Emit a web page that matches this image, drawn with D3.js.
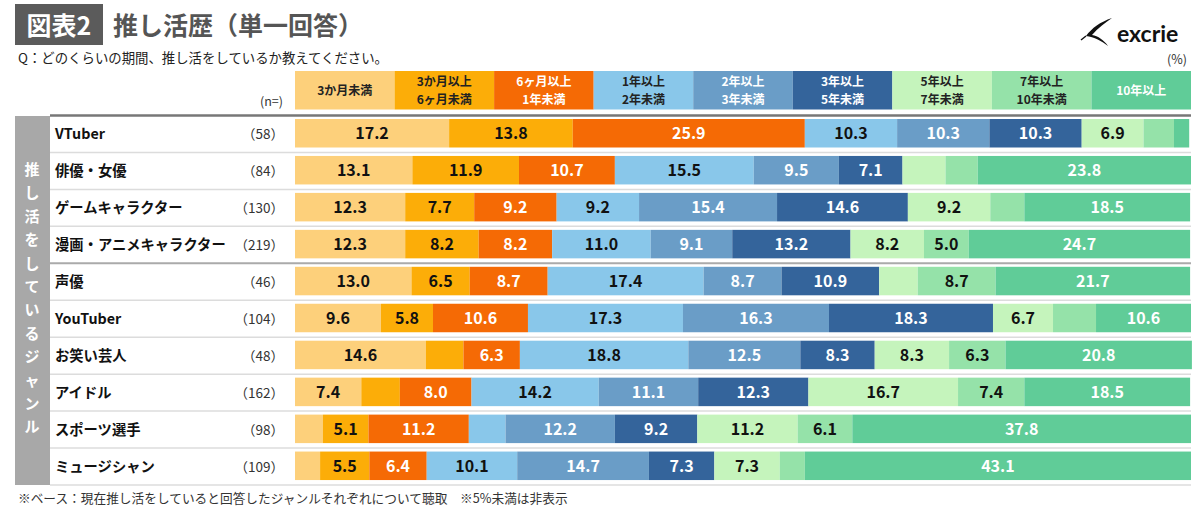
<!DOCTYPE html>
<html>
<head>
<meta charset="utf-8">
<script src="https://cdn.jsdelivr.net/npm/d3@7"></script>
<style>
  html, body { margin: 0; padding: 0; background: #fff; }
  svg { display: block; font-family: "Noto Sans CJK JP", "Noto Sans", sans-serif; }
</style>
</head>
<body>
<div id="app"></div>
<script>
const genres = ["VTuber", "俳優・女優", "ゲームキャラクター", "漫画・アニメキャラクター", "声優",
  "YouTuber", "お笑い芸人", "アイドル", "スポーツ選手", "ミュージシャン"];
const counts = [58, 84, 130, 219, 46, 104, 48, 162, 98, 109];

const periods = ["3か月未満", "3か月以上\n6ヶ月未満", "6ヶ月以上\n1年未満", "1年以上\n2年未満",
  "2年以上\n3年未満", "3年以上\n5年未満", "5年以上\n7年未満", "7年以上\n10年未満", "10年以上"];

// one array per genre, in period order (values under 5%)
const vtuber    = [17.2, 13.8, 25.9, 10.3, 10.3, 10.3, 6.9, 3.4, 1.7];
const actor     = [13.1, 11.9, 10.7, 15.5, 9.5, 7.1, 4.8, 3.6, 23.8];
const gameChara = [12.3, 7.7, 9.2, 9.2, 15.4, 14.6, 9.2, 3.8, 18.5];
const animeChara= [12.3, 8.2, 8.2, 11.0, 9.1, 13.2, 8.2, 5.0, 24.7];
const seiyu     = [13.0, 6.5, 8.7, 17.4, 8.7, 10.9, 4.3, 8.7, 21.7];
const youtuber  = [9.6, 5.8, 10.6, 17.3, 16.3, 18.3, 6.7, 4.8, 10.6];
const comedian  = [14.6, 4.2, 6.3, 18.8, 12.5, 8.3, 8.3, 6.3, 20.8];
const idol      = [7.4, 4.3, 8.0, 14.2, 11.1, 12.3, 16.7, 7.4, 18.5];
const athlete   = [3.1, 5.1, 11.2, 4.1, 12.2, 9.2, 11.2, 6.1, 37.8];
const musician  = [2.8, 5.5, 6.4, 10.1, 14.7, 7.3, 7.3, 2.8, 43.1];
const values = [vtuber, actor, gameChara, animeChara, seiyu, youtuber, comedian, idol, athlete, musician];

const colors = ["#fdd07b", "#fcad08", "#f56a05", "#89c7ea", "#6a9dc7", "#34649b", "#c5f4bc", "#95e2a9", "#60cc98"];
const whiteText = [false, false, true, false, true, true, false, false, true];

const W = 1200, H = 516;
const svg = d3.select("#app").append("svg").attr("width", W).attr("height", H);

const x = d3.scaleLinear().domain([0, 100]).range([295, 1191]);
const y = d3.scaleBand().domain(genres).range([115.5, 485]);
const legendBand = d3.scaleBand().domain(d3.range(periods.length)).range([295, 1191]);

// title
svg.append("rect").attr("x", 15).attr("y", 4).attr("width", 88).attr("height", 41).attr("fill", "#5b5b5b");
svg.append("text").attr("x", 59).attr("y", 35).attr("text-anchor", "middle")
  .attr("fill", "#fff").attr("font-size", 25).attr("font-weight", 700).text("図表2");
svg.append("text").attr("x", 113).attr("y", 35)
  .attr("fill", "#555").attr("font-size", 25).attr("font-weight", 700).text("推し活歴（単一回答）");
svg.append("text").attr("x", 18).attr("y", 63).attr("fill", "#222").attr("font-size", 13.4)
  .text("Q：どのくらいの期間、推し活をしているか教えてください。");

// logo
const logo = svg.append("g");
logo.append("path").attr("d", "M1112,18 C1100,22 1092,28 1086,36 C1094,37 1102,41 1108,46 C1104,40 1098,36 1092,35 C1098,28 1105,23 1112,18 Z")
  .attr("fill", "#111");
logo.append("path").attr("d", "M1086,36 L1081,40").attr("stroke", "#111").attr("stroke-width", 1.5);
logo.append("text").attr("x", 1117).attr("y", 42).attr("font-size", 23).attr("font-weight", 700)
  .attr("fill", "#111").attr("font-family", "Lato, 'Open Sans', sans-serif").text("excrie");
svg.append("text").attr("x", 1187).attr("y", 64).attr("text-anchor", "end").attr("font-size", 12.5)
  .attr("fill", "#333").text("(%)");

// legend header
const head = svg.append("g");
head.selectAll("rect").data(periods).join("rect")
  .attr("x", (d, i) => legendBand(i)).attr("y", 71)
  .attr("width", legendBand.bandwidth()).attr("height", 38.5)
  .attr("fill", (d, i) => colors[i]);
head.selectAll("text").data(periods).join("text")
  .attr("x", (d, i) => legendBand(i) + legendBand.bandwidth() / 2)
  .attr("text-anchor", "middle").attr("font-size", 12).attr("font-weight", 700)
  .attr("fill", (d, i) => whiteText[i] ? "#fff" : "#222")
  .each(function (d) {
    const lines = d.split("\n");
    const t = d3.select(this);
    lines.forEach((l, k) => {
      t.append("tspan").attr("x", t.attr("x"))
        .attr("y", lines.length === 1 ? 95 : 86 + k * 17.6).text(l);
    });
  });
svg.append("text").attr("x", 283).attr("y", 106).attr("text-anchor", "end")
  .attr("font-size", 12.5).attr("fill", "#333").text("(n=)");

// left band with vertical caption
svg.append("rect").attr("x", 15).attr("y", 116).attr("width", 35).attr("height", 369).attr("fill", "#a8a8a8");
const caption = "推し活をしているジャンル".split("");
svg.append("g").selectAll("text").data(caption).join("text")
  .attr("x", 32).attr("y", (d, i) => 175 + i * 23.4)
  .attr("text-anchor", "middle").attr("font-size", 15).attr("font-weight", 700)
  .attr("fill", "#fff").text(d => d);

// row separators
const seps = d3.range(genres.length + 1).map(i => 115.5 + i * y.step());
svg.append("g").selectAll("line").data(seps).join("line")
  .attr("x1", 50).attr("x2", 1191)
  .attr("y1", d => d).attr("y2", d => d)
  .attr("stroke", (d, i) => i === 0 ? "#777" : i === 4 ? "#aaa" : "#dcdcdc")
  .attr("stroke-width", (d, i) => i === 0 ? 2.5 : i === 4 ? 2 : 1.5);

// row labels
const rowsG = svg.append("g");
rowsG.selectAll("text.genre").data(genres).join("text").attr("class", "genre")
  .attr("x", 55).attr("y", d => y(d) + y.bandwidth() / 2 + 5)
  .attr("font-size", 14.3).attr("font-weight", 700).attr("fill", "#111").text(d => d);
rowsG.selectAll("text.n").data(genres).join("text").attr("class", "n")
  .attr("x", 284).attr("y", d => y(d) + y.bandwidth() / 2 + 5)
  .attr("text-anchor", "end").attr("font-size", 13.5).attr("fill", "#333")
  .text((d, i) => `（${counts[i]}）`);

// stacked bars
const table = genres.map((g, i) => {
  const row = { genre: g };
  periods.forEach((p, k) => { row[k] = values[i][k]; });
  return row;
});
const series = d3.stack().keys(d3.range(periods.length))(table);

const layers = svg.append("g").selectAll("g").data(series).join("g")
  .attr("fill", (d, k) => colors[k]);
layers.selectAll("rect").data(d => d).join("rect")
  .attr("x", d => x(d[0]))
  .attr("y", d => y(d.data.genre) + 3.5)
  .attr("width", d => x(d[1]) - x(d[0]))
  .attr("height", 28.5);

layers.each(function (s, k) {
  d3.select(this).selectAll("text").data(s.filter(d => d[1] - d[0] >= 5)).join("text")
    .attr("x", d => (x(d[0]) + x(d[1])) / 2)
    .attr("y", d => y(d.data.genre) + 3.5 + 14.25 + 6)
    .attr("text-anchor", "middle").attr("font-size", 16).attr("font-weight", 700)
    .attr("fill", whiteText[k] ? "#fff" : "#111")
    .text(d => (d[1] - d[0]).toFixed(1));
});

// footer
svg.append("text").attr("x", 18).attr("y", 503).attr("font-size", 12.7).attr("fill", "#333")
  .text("※ベース：現在推し活をしていると回答したジャンルそれぞれについて聴取　※5%未満は非表示");
</script>
</body>
</html>
